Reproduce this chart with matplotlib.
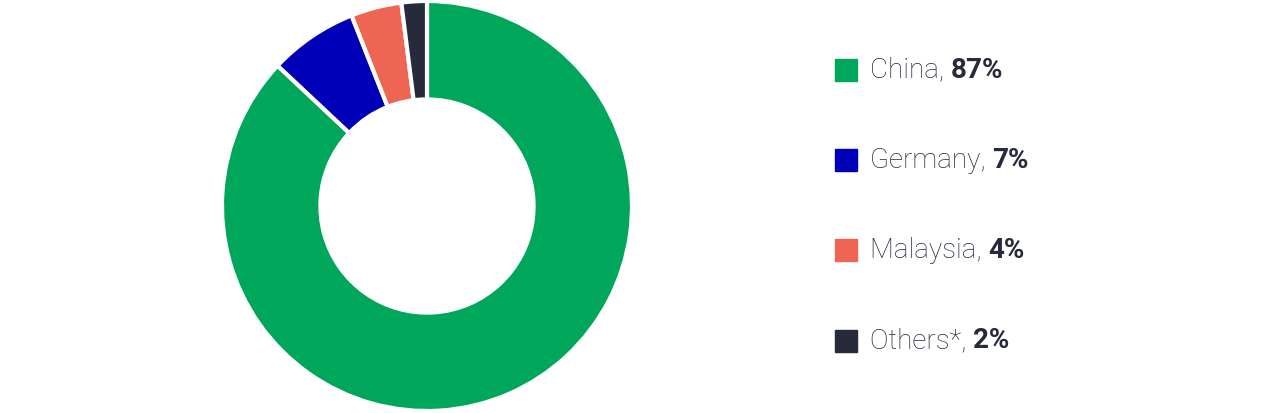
import matplotlib
matplotlib.use("Agg")
import matplotlib.pyplot as plt
from matplotlib.patches import Rectangle
from matplotlib import font_manager

countries = ["China", "Germany", "Malaysia", "Others*"]
shares = [87, 7, 4, 2]
colors = ["#00a65a", "#0000b8", "#ee6554", "#262a3b"]

names = {f.name for f in font_manager.fontManager.ttflist}
fam = "Liberation Sans Narrow" if "Liberation Sans Narrow" in names else "Roboto"

W, H = 1280, 413
fig = plt.figure(figsize=(W / 100, H / 100), dpi=100)

# donut
cx, cy, r = 427, 206, 205
ax = fig.add_axes([(cx - r) / W, (H - cy - r) / H, 2 * r / W, 2 * r / H])
ax.pie(shares, colors=colors, startangle=90, counterclock=False,
       wedgeprops=dict(width=0.48, edgecolor="white", linewidth=3))
ax.set_xlim(-1, 1)
ax.set_ylim(-1, 1)
ax.set_aspect("equal")
ax.axis("off")

# legend
rows_y = [70, 160, 250, 341]
fig.canvas.draw()
renderer = fig.canvas.get_renderer()
for name, val, col, y in zip(countries, shares, colors, rows_y):
    fig.patches.append(Rectangle((835 / W, (H - y - 11) / H), 22 / W, 22 / H,
                                 transform=fig.transFigure, color=col))
    t = fig.text(870 / W, (H - y) / H, name + ", ", fontsize=20, family=fam,
                 color="#262a3b", va="center", ha="left", fontweight="light")
    bb = t.get_window_extent(renderer)
    fig.text(bb.x1 / W, (H - y) / H, "%d%%" % val, fontsize=20, family="Roboto",
             color="#262a3b", va="center", ha="left", fontweight="bold")

fig.savefig("out.png", dpi=100)
